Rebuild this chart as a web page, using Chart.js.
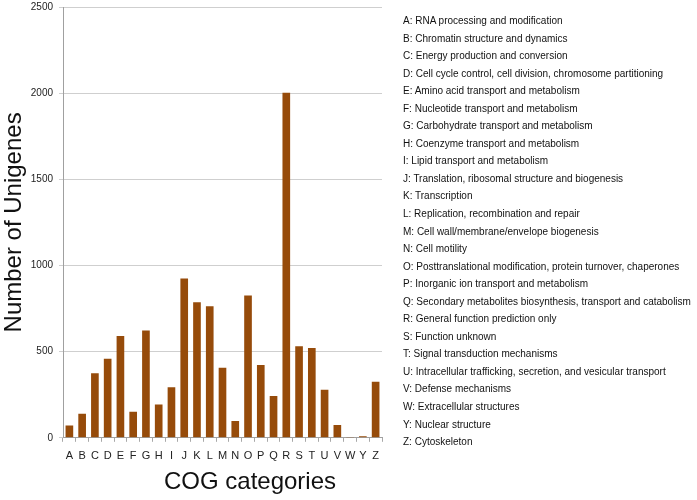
<!DOCTYPE html>
<html>
<head>
<meta charset="utf-8">
<script src="https://cdn.jsdelivr.net/npm/chart.js@4.4.1/dist/chart.umd.min.js"></script>
<style>
  html, body { margin: 0; padding: 0; background: #ffffff; }
  #wrap { position: relative; width: 697px; height: 500px; overflow: hidden; }
  #c { position: absolute; left: 0; top: 0; }
  #legend { position: absolute; left: 403px; top: 14px; margin: 0; padding: 0; list-style: none;
            font-family: "Liberation Sans", Arial, sans-serif; font-size: 10px; color: #111; }
  #legend li { height: 17.55px; line-height: 14px; white-space: nowrap; }
  #xtitle { position: absolute; left: 250px; top: 467px; transform: translateX(-50%);
            font-family: "Liberation Sans", Arial, sans-serif; font-size: 24px; color: #111; white-space: nowrap; }
</style>
</head>
<body>
<div id="wrap">
  <canvas id="c" width="697" height="500"></canvas>
  <ul id="legend"></ul>
  <div id="xtitle"></div>
</div>
<script>
const categories = ["A","B","C","D","E","F","G","H","I","J","K","L","M","N","O","P","Q","R","S","T","U","V","W","Y","Z"];
const unigenes = [71,139,374,459,591,151,622,193,293,925,786,763,407,97,826,423,243,2003,531,521,279,74,5,9,325];
const yTicks = [0,500,1000,1500,2000,2500];
const descriptions = [
  "A: RNA processing and modification",
  "B: Chromatin structure and dynamics",
  "C: Energy production and conversion",
  "D: Cell cycle control, cell division, chromosome partitioning",
  "E: Amino acid transport and metabolism",
  "F: Nucleotide transport and metabolism",
  "G: Carbohydrate transport and metabolism",
  "H: Coenzyme transport and metabolism",
  "I: Lipid transport and metabolism",
  "J: Translation, ribosomal structure and biogenesis",
  "K: Transcription",
  "L: Replication, recombination and repair",
  "M: Cell wall/membrane/envelope biogenesis",
  "N: Cell motility",
  "O: Posttranslational modification, protein turnover, chaperones",
  "P: Inorganic ion transport and metabolism",
  "Q: Secondary metabolites biosynthesis, transport and catabolism",
  "R: General function prediction only",
  "S: Function unknown",
  "T: Signal transduction mechanisms",
  "U: Intracellular trafficking, secretion, and vesicular transport",
  "V: Defense mechanisms",
  "W: Extracellular structures",
  "Y: Nuclear structure",
  "Z: Cytoskeleton"
];
const yTitle = "Number of Unigenes";
const xTitle = "COG categories";

const ul = document.getElementById('legend');
descriptions.forEach(d => { const li = document.createElement('li'); li.textContent = d; ul.appendChild(li); });
document.getElementById('xtitle').textContent = xTitle;

new Chart(document.getElementById('c'), {
  type: 'bar',
  data: {
    labels: categories,
    datasets: [{
      data: unigenes,
      backgroundColor: '#964B0A',
      borderWidth: 0,
      categoryPercentage: 0.8,
      barPercentage: 0.75
    }]
  },
  options: {
    responsive: false,
    animation: false,
    layout: { padding: { left: 0, right: 315, top: 7, bottom: 29 } },
    plugins: { legend: { display: false }, tooltip: { enabled: false } },
    scales: {
      x: {
        offset: true,
        grid: { display: true, offset: true, drawOnChartArea: false, drawTicks: true, tickLength: 4, color: '#a8a8a8' },
        border: { display: true, color: '#a0a0a0', width: 1 },
        ticks: { font: { family: 'Liberation Sans', size: 11 }, color: '#222', padding: 8, maxRotation: 0, autoSkip: false }
      },
      y: {
        min: 0, max: 2500,
        afterBuildTicks: (scale) => { scale.ticks = yTicks.map(v => ({ value: v })); },
        afterFit: (scale) => { scale.width = 63; scale.paddingTop = 0; scale.paddingBottom = 0; },
        grid: { color: '#cfcfcf', tickLength: 4, drawTicks: true },
        border: { display: true, color: '#a0a0a0', width: 1 },
        ticks: { font: { family: 'Liberation Sans', size: 10 }, color: '#222', padding: 6, callback: (v) => String(v) },
        title: { display: true, text: yTitle, font: { family: 'Liberation Sans', size: 24 }, color: '#111', padding: { top: 0, bottom: 2 } }
      }
    }
  }
});
</script>
</body>
</html>
